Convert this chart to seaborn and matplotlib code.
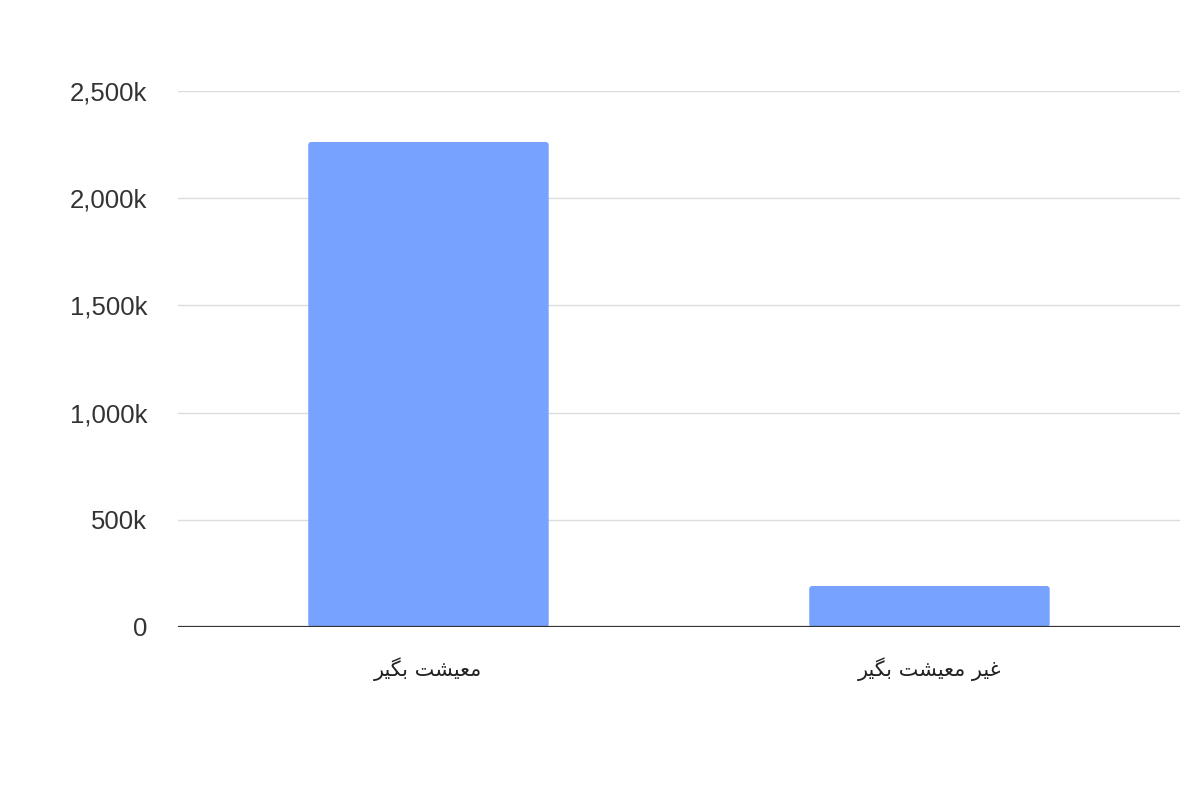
import seaborn as sns
import matplotlib.pyplot as plt
import pandas as pd
from matplotlib.patches import FancyBboxPatch
from matplotlib.ticker import FuncFormatter

categories = ["معیشت بگیر", "غیر معیشت بگیر"]
values_k = [2262, 191]
y_ticks = [0, 500, 1000, 1500, 2000, 2500]

# minimal arabic/persian shaping (matplotlib draws glyphs without joining)
FORMS = {
    "م": ("\ufee1", "\ufee2", "\ufee3", "\ufee4"),
    "ع": ("\ufec9", "\ufeca", "\ufecb", "\ufecc"),
    "غ": ("\ufecd", "\ufece", "\ufecf", "\ufed0"),
    "ی": ("\ufbfc", "\ufbfd", "\ufbfe", "\ufbff"),
    "ش": ("\ufeb5", "\ufeb6", "\ufeb7", "\ufeb8"),
    "ت": ("\ufe95", "\ufe96", "\ufe97", "\ufe98"),
    "ب": ("\ufe8f", "\ufe90", "\ufe91", "\ufe92"),
    "گ": ("\ufb92", "\ufb93", "\ufb94", "\ufb95"),
    "ر": ("\ufead", "\ufeae", "\ufead", "\ufeae"),
}
RIGHT_ONLY = set("ر")


def shape(text):
    out = []
    for i, ch in enumerate(text):
        if ch not in FORMS:
            out.append(ch)
            continue
        prev = text[i - 1] if i > 0 else ""
        nxt = text[i + 1] if i + 1 < len(text) else ""
        join_prev = prev in FORMS and prev not in RIGHT_ONLY
        join_next = nxt in FORMS and ch not in RIGHT_ONLY
        if join_prev and join_next:
            out.append(FORMS[ch][3])
        elif join_prev:
            out.append(FORMS[ch][1])
        elif join_next:
            out.append(FORMS[ch][2])
        else:
            out.append(FORMS[ch][0])
    return "".join(reversed(out))


sns.set_style("white")
plt.rcParams["font.family"] = ["Liberation Sans", "DejaVu Sans"]

df = pd.DataFrame({"category": categories, "value": values_k})

fig = plt.figure(figsize=(12, 8), dpi=100)
ax = fig.add_axes([0.1483, 0.2163, 0.835, 0.67])

sns.barplot(data=df, x="category", y="value", color="#77a2ff", saturation=1,
            width=0.48, ax=ax, zorder=3)

ax.set_ylim(0, 2500)
ax.set_xlim(-0.5, 1.5)

# swap the plain rectangles for slightly rounded ones
px_x = 2 / (0.835 * 1200)
px_y = 2500 / (0.67 * 800)
for bar in list(ax.patches):
    rounded = FancyBboxPatch(
        (bar.get_x(), bar.get_y()), bar.get_width(), bar.get_height(),
        boxstyle=f"round,pad=0,rounding_size={3 * px_x}",
        mutation_aspect=px_y / px_x,
        facecolor=bar.get_facecolor(), edgecolor="none", zorder=3,
    )
    bar.remove()
    ax.add_patch(rounded)

ax.set_yticks(y_ticks)
ax.yaxis.set_major_formatter(FuncFormatter(lambda v, p: "0" if v == 0 else f"{int(v):,}k"))
ax.grid(axis="y", color="#dcdcdc", linewidth=1, zorder=0)
ax.axhline(0, color="#333333", linewidth=1.6, zorder=4)

ax.set_xticks([0, 1])
ax.set_xticklabels([shape(c) for c in categories], family=["DejaVu Sans"])
ax.tick_params(axis="y", length=0, pad=22, labelsize=18.5, labelcolor="#333333")
ax.tick_params(axis="x", length=0, pad=22, labelsize=15, labelcolor="#222222")
ax.set_xlabel("")
ax.set_ylabel("")
sns.despine(ax=ax, left=True, bottom=True)

fig.savefig("out.png", dpi=100)
